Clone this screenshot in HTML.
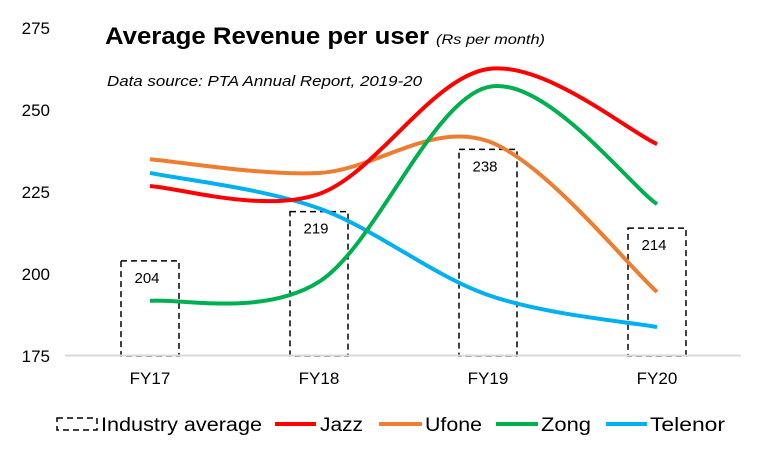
<!DOCTYPE html>
<html><head><meta charset="utf-8"><style>
html,body{margin:0;padding:0;background:#fff;}
svg{display:block;font-family:"Liberation Sans",Arial,sans-serif;}
</style></head><body>
<svg id="chart" width="769" height="462" viewBox="0 0 769 462">
<text x="105" y="44" font-size="24" font-weight="bold" textLength="324" lengthAdjust="spacingAndGlyphs">Average Revenue per user</text>
<text x="436" y="44" font-size="14" font-style="italic" textLength="109" lengthAdjust="spacingAndGlyphs">(Rs per month)</text>
<text x="107" y="86" font-size="15" font-style="italic" textLength="315" lengthAdjust="spacingAndGlyphs">Data source:  PTA Annual  Report, 2019-20</text>
<g id="yaxis"></g>
<g id="bars"></g>
<g id="lines"></g>
<line x1="65" y1="355.5" x2="741" y2="355.5" stroke="#d9d9d9" stroke-width="2"/>
<g id="xaxis"></g>
<g>
 <g>
  <rect x="57" y="418" width="40" height="12" fill="none" stroke="#000" stroke-width="1.5" stroke-dasharray="6,4"/>
  <text x="101" y="431" font-size="19" textLength="161" lengthAdjust="spacingAndGlyphs">Industry average</text></g>
 <g>
  <line x1="275" y1="424" x2="316" y2="424" stroke="#ff0000" stroke-width="4"/>
  <text x="320" y="431" font-size="19" textLength="43" lengthAdjust="spacingAndGlyphs">Jazz</text></g>
 <g>
  <line x1="379" y1="424" x2="422" y2="424" stroke="#ed7d31" stroke-width="4"/>
  <text x="425" y="431" font-size="19" textLength="57" lengthAdjust="spacingAndGlyphs">Ufone</text></g>
 <g>
  <line x1="496" y1="424" x2="538" y2="424" stroke="#00b050" stroke-width="4"/>
  <text x="541" y="431" font-size="19" textLength="50" lengthAdjust="spacingAndGlyphs">Zong</text></g>
 <g>
  <line x1="606" y1="424" x2="647" y2="424" stroke="#00b0f0" stroke-width="4"/>
  <text x="650" y="431" font-size="19" textLength="75" lengthAdjust="spacingAndGlyphs">Telenor</text></g>
</g>
</svg>
<script>
const categories = ["FY17","FY18","FY19","FY20"];
const industryAvg = [204,219,238,214];
const jazz = [226.8,224.4,262.5,239.6];
const ufone = [235,230.8,240.5,194.5];
const zong = [191.8,197.6,257,221.3];
const telenor = [230.8,220,193.6,183.8];
const yTicks = [175,200,225,250,275];

const NS="http://www.w3.org/2000/svg";
const xS=i=>150+i*169;
const yS=v=>356-(v-175)/25*82;
function mk(tag,attrs,parent){const e=document.createElementNS(NS,tag);for(const k in attrs)e.setAttribute(k,attrs[k]);parent.appendChild(e);return e;}

const ya=document.getElementById('yaxis');
yTicks.forEach(t=>{
  const e=mk('text',{x:50,y:yS(t)+6,'font-size':17,'text-anchor':'end'},ya);
  
  
  e.textContent=t;
});
const xa=document.getElementById('xaxis');
categories.forEach((c,i)=>{
  const e=mk('text',{x:xS(i),y:384,'font-size':17,'text-anchor':'middle'},xa);
  
  
  e.textContent=c;
});
const bg=document.getElementById('bars');
industryAvg.forEach((v,i)=>{
  const r=mk('rect',{x:xS(i)-29,y:yS(v),width:58,height:356-yS(v),fill:'none',stroke:'#000','stroke-width':1.5,'stroke-dasharray':'6,4'},bg);
  
  
  const t=mk('text',{x:xS(i)-3,y:yS(v)+22,'font-size':15,'text-anchor':'middle'},bg);
  
  
  t.textContent=v;
});
function smooth(vals){
  const p=vals.map((v,i)=>[xS(i),yS(v)]);
  let d='M'+p[0][0]+','+p[0][1];
  for(let i=0;i<p.length-1;i++){
    const p0=p[i-1]||p[i],p1=p[i],p2=p[i+1],p3=p[i+2]||p[i+1];
    const c1=[p1[0]+(p2[0]-p0[0])/6,p1[1]+(p2[1]-p0[1])/6];
    const c2=[p2[0]-(p3[0]-p1[0])/6,p2[1]-(p3[1]-p1[1])/6];
    d+=' C'+c1+' '+c2+' '+p2;
  }
  return d;
}
const lg=document.getElementById('lines');
[[ufone,'#ed7d31','ufone'],[telenor,'#00b0f0','telenor'],[jazz,'#ff0000','jazz'],[zong,'#00b050','zong']].forEach(([s,c,n])=>{
  const e=mk('path',{d:smooth(s),fill:'none',stroke:c,'stroke-width':4},lg);
  
  
});
</script>
</body></html>
